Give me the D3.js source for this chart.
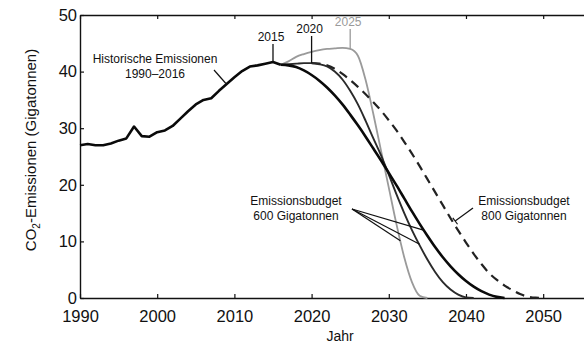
<!DOCTYPE html>
<html>
<head>
<meta charset="utf-8">
<script src="https://cdn.jsdelivr.net/npm/d3@7"></script>
<style>
  body { margin: 0; background: #fff; }
  text { font-family: "Liberation Sans", Arial, sans-serif; fill: #111; }
</style>
</head>
<body>
<svg id="chart" width="584" height="344"></svg>
<script>
var w = 584;
var h = 344;

// historische Emissionen 1990-2016 (Gigatonnen CO2)
var historic = [
  [1990, 27.0], [1991, 27.2], [1992, 27.0], [1993, 27.0], [1994, 27.3],
  [1995, 27.8], [1996, 28.2], [1997, 30.3], [1998, 28.6], [1999, 28.5],
  [2000, 29.3], [2001, 29.6], [2002, 30.4], [2003, 31.7], [2004, 33.0],
  [2005, 34.2], [2006, 35.0], [2007, 35.3], [2008, 36.6], [2009, 37.8],
  [2010, 39.0], [2011, 40.1], [2012, 40.9], [2013, 41.1], [2014, 41.4],
  [2015, 41.7], [2016, 41.2]
];

// Budget 600 Gt, Reduktion ab 2015
var path2015 = [
  [2016, 41.2], [2017, 41.1], [2018, 40.8], [2019, 40.2], [2020, 39.4],
  [2021, 38.4], [2022, 37.2], [2023, 35.8], [2024, 34.2], [2025, 32.4],
  [2026, 30.5], [2027, 28.5], [2028, 26.4], [2029, 24.3], [2030, 22.1],
  [2031, 19.9], [2032, 17.6], [2033, 15.3], [2034, 13.1], [2035, 11.0],
  [2036, 9.0], [2037, 7.2], [2038, 5.6], [2039, 4.2], [2040, 3.0],
  [2041, 2.0], [2042, 1.2], [2043, 0.6], [2044, 0.2], [2045, 0]
];

// Budget 600 Gt, Reduktion ab 2020
var path2020 = [
  [2016, 41.2], [2017, 41.3], [2018, 41.4], [2019, 41.5], [2020, 41.5],
  [2021, 41.3], [2022, 40.9], [2023, 40.0], [2024, 38.6], [2025, 36.6],
  [2026, 34.2], [2027, 31.3], [2028, 28.2], [2029, 25.2], [2030, 21.8],
  [2031, 18.3], [2032, 15.0], [2033, 12.0], [2034, 9.3], [2035, 6.8],
  [2036, 4.6], [2037, 2.8], [2038, 1.5], [2039, 0.6], [2040, 0.1], [2041, 0]
];

// Budget 600 Gt, Reduktion ab 2025
var path2025 = [
  [2016, 41.2], [2017, 41.8], [2018, 42.6], [2019, 43.1], [2020, 43.5],
  [2021, 43.8], [2022, 44.0], [2023, 44.1], [2024, 44.2], [2025, 44.0],
  [2026, 42.8], [2027, 38.5], [2028, 32.5], [2029, 26.0], [2030, 19.5],
  [2031, 13.0], [2032, 7.2], [2033, 2.8], [2034, 0.4], [2035, 0]
];

// Budget 800 Gt (gestrichelt)
var path800 = [
  [2020, 41.5], [2021, 41.4], [2022, 41.1], [2023, 40.5], [2024, 39.6],
  [2025, 38.5], [2026, 37.3], [2027, 36.0], [2028, 34.6], [2029, 33.1],
  [2030, 31.4], [2031, 29.6], [2032, 27.6], [2033, 25.5], [2034, 23.3],
  [2035, 21.0], [2036, 18.7], [2037, 16.4], [2038, 14.1], [2039, 11.9],
  [2040, 9.8], [2041, 7.8], [2042, 6.0], [2043, 4.4], [2044, 3.2],
  [2045, 2.2], [2046, 1.4], [2047, 0.7], [2048, 0.25], [2049, 0.05], [2050, 0]
];

var xTicks = [1990, 2000, 2010, 2020, 2030, 2040, 2050];
var yTicks = [0, 10, 20, 30, 40, 50];

// Markierungen der Startjahre: [Label, Jahr, Wert]
var startLabels = [["2015", 2015, 41.7], ["2020", 2020, 41.5], ["2025", 2025, 44.1]];
// Ziele der Hinweislinien
var budget600Targets = [[2034.5, 12.0], [2034.0, 9.5], [2031.5, 10.1]];
var budget800Target = [2038.6, 13.6];
var historicTarget = [2008.9, 37.9];

var xScale = d3.scaleLinear().domain([1990, 2056]).range([80, 589.5]);
var yScale = d3.scaleLinear().domain([0, 50]).range([298, 15]);

var canvas = d3.select("#chart");

var line = d3.line()
  .x(d => xScale(d[0]))
  .y(d => yScale(d[1]));
var smooth = d3.line()
  .x(d => xScale(d[0]))
  .y(d => yScale(d[1]))
  .curve(d3.curveMonotoneX);

// Achsen (Ticks nach innen)
var xAxis = d3.axisBottom(xScale).tickValues(xTicks).tickFormat(d3.format("d"))
  .tickSizeInner(-4).tickSizeOuter(0).tickPadding(14);
var xTop = d3.axisTop(xScale).tickValues(xTicks).tickFormat("")
  .tickSizeInner(-4).tickSizeOuter(0);
var yAxis = d3.axisLeft(yScale).tickValues(yTicks)
  .tickSizeInner(-4).tickSizeOuter(0).tickPadding(3);

var gx = canvas.append("g").attr("transform", "translate(0,298)").call(xAxis);
var gt = canvas.append("g").attr("transform", "translate(0,15)").call(xTop);
var gy = canvas.append("g").attr("transform", "translate(80,0)").call(yAxis);

[gx, gt, gy].forEach(function (g) {
  g.select(".domain").attr("stroke", "#111").attr("stroke-width", 1.4);
  g.selectAll(".tick line").attr("stroke", "#111").attr("stroke-width", 1.2);
  g.selectAll("text").style("font-size", "16.5px").attr("fill", "#111");
});
gx.selectAll("text").attr("dy", "0.62em");

canvas.append("text")
  .attr("x", 340).attr("y", 341)
  .attr("text-anchor", "middle")
  .style("font-size", "14px")
  .text("Jahr");

var yl = canvas.append("text")
  .attr("transform", "translate(36,150) rotate(-90)")
  .attr("text-anchor", "middle")
  .style("font-size", "15px");
yl.append("tspan").text("CO");
yl.append("tspan").attr("dy", 4).style("font-size", "10px").text("2");
yl.append("tspan").attr("dy", -4).text("-Emissionen (Gigatonnen)");

// Kurven
canvas.append("path").datum(path2025).attr("d", smooth)
  .attr("fill", "none").attr("stroke", "#9a9a9a").attr("stroke-width", 1.8);
canvas.append("path").datum(path800).attr("d", smooth)
  .attr("fill", "none").attr("stroke", "#222").attr("stroke-width", 2.2)
  .attr("stroke-dasharray", "9,6");
canvas.append("path").datum(path2020).attr("d", smooth)
  .attr("fill", "none").attr("stroke", "#2a2a2a").attr("stroke-width", 1.9);
canvas.append("path").datum(path2015).attr("d", smooth)
  .attr("fill", "none").attr("stroke", "#0a0a0a").attr("stroke-width", 2.6);
canvas.append("path").datum(historic).attr("d", line)
  .attr("fill", "none").attr("stroke", "#0a0a0a").attr("stroke-width", 2.6)
  .attr("stroke-linejoin", "round");

// Startjahr-Beschriftungen
var labelTop = { "2015": 44, "2020": 36, "2025": 29 };
startLabels.forEach(function (s) {
  var x = xScale(s[1]);
  var grey = s[0] == "2025";
  canvas.append("line")
    .attr("x1", x).attr("x2", x)
    .attr("y1", labelTop[s[0]]).attr("y2", yScale(s[2]))
    .attr("stroke", grey ? "#9a9a9a" : "#111").attr("stroke-width", 1.3);
  canvas.append("text")
    .attr("x", x - 2).attr("y", labelTop[s[0]] - 3)
    .attr("text-anchor", "middle")
    .style("font-size", "12px")
    .style("fill", grey ? "#9a9a9a" : "#111")
    .text(s[0]);
});

// Historische Emissionen
canvas.append("text").attr("x", 155).attr("y", 63).attr("text-anchor", "middle")
  .style("font-size", "12px").text("Historische Emissionen");
canvas.append("text").attr("x", 155).attr("y", 78).attr("text-anchor", "middle")
  .style("font-size", "12px").text("1990\u20132016");
canvas.append("line")
  .attr("x1", 214).attr("y1", 70)
  .attr("x2", xScale(historicTarget[0])).attr("y2", yScale(historicTarget[1]))
  .attr("stroke", "#111").attr("stroke-width", 1.2);

// Emissionsbudget 600
canvas.append("text").attr("x", 296).attr("y", 205).attr("text-anchor", "middle")
  .style("font-size", "12px").text("Emissionsbudget");
canvas.append("text").attr("x", 296).attr("y", 220).attr("text-anchor", "middle")
  .style("font-size", "12px").text("600 Gigatonnen");
budget600Targets.forEach(function (t) {
  canvas.append("line")
    .attr("x1", 352).attr("y1", 209)
    .attr("x2", xScale(t[0])).attr("y2", yScale(t[1]))
    .attr("stroke", "#111").attr("stroke-width", 1.2);
});

// Emissionsbudget 800
canvas.append("text").attr("x", 524).attr("y", 205).attr("text-anchor", "middle")
  .style("font-size", "12px").text("Emissionsbudget");
canvas.append("text").attr("x", 524).attr("y", 220).attr("text-anchor", "middle")
  .style("font-size", "12px").text("800 Gigatonnen");
var tx = xScale(budget800Target[0]), ty = yScale(budget800Target[1]);
var sx = 473, sy = 208;
canvas.append("line")
  .attr("x1", sx).attr("y1", sy).attr("x2", tx).attr("y2", ty)
  .attr("stroke", "#111").attr("stroke-width", 1.2);
var dx = tx - sx, dy = ty - sy, len = Math.sqrt(dx * dx + dy * dy);
var px = -dy / len * 4, py = dx / len * 4;
canvas.append("line")
  .attr("x1", tx + px).attr("y1", ty + py).attr("x2", tx - px).attr("y2", ty - py)
  .attr("stroke", "#111").attr("stroke-width", 1.2);
</script>
</body>
</html>
